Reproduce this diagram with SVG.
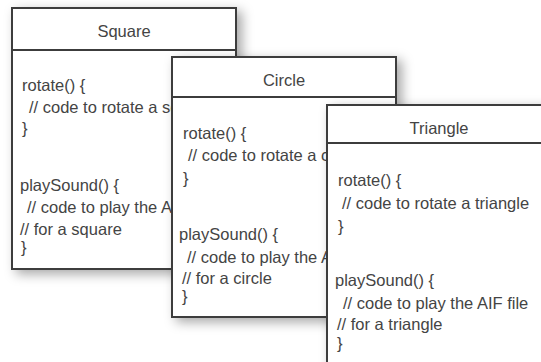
<svg xmlns="http://www.w3.org/2000/svg" width="541" height="362" viewBox="0 0 541 362">
<defs>
<filter id="sh" x="-20%" y="-20%" width="150%" height="150%">
<feDropShadow dx="5" dy="4" stdDeviation="6" flood-color="#000" flood-opacity="0.35"/>
</filter>
</defs>
<style>
.box{fill:#fff;stroke:#3c3c3c;stroke-width:2}
.hl{stroke:#3c3c3c;stroke-width:2}
.t{font-family:"Liberation Sans",Arial,sans-serif;font-size:16.5px;fill:#444}
.ttl{text-anchor:middle}
</style>
<rect width="541" height="362" fill="#fff"/>
<g id="connectors"></g>
<g id="square">
<rect class="box" x="12" y="8" width="224" height="261" filter="url(#sh)"/>
<line class="hl" x1="12" y1="50" x2="236" y2="50"/>
<text class="t ttl" x="124" y="37">Square</text>
<text class="t" x="22" y="91">rotate() {</text>
<text class="t" x="29" y="113">// code to rotate a square</text>
<text class="t" x="22" y="134">}</text>
<text class="t" x="20" y="191">playSound() {</text>
<text class="t" x="27" y="213">// code to play the AIF file</text>
<text class="t" x="20" y="235">// for a square</text>
<text class="t" x="21" y="253">}</text>
</g>
<g id="circle">
<rect class="box" x="172" y="57" width="224" height="260" filter="url(#sh)"/>
<line class="hl" x1="172" y1="97" x2="396" y2="97"/>
<text class="t ttl" x="284" y="86">Circle</text>
<text class="t" x="183" y="139">rotate() {</text>
<text class="t" x="188" y="161">// code to rotate a circle</text>
<text class="t" x="183" y="184">}</text>
<text class="t" x="179" y="240">playSound() {</text>
<text class="t" x="187" y="263">// code to play the AIF file</text>
<text class="t" x="182" y="284">// for a circle</text>
<text class="t" x="182" y="302">}</text>
</g>
<g id="triangle">
<rect class="box" x="327" y="105" width="224" height="262" filter="url(#sh)"/>
<line class="hl" x1="327" y1="143" x2="551" y2="143"/>
<text class="t ttl" x="439" y="134">Triangle</text>
<text class="t" x="338" y="186">rotate() {</text>
<text class="t" x="342" y="209">// code to rotate a triangle</text>
<text class="t" x="338" y="232">}</text>
<text class="t" x="335" y="286">playSound() {</text>
<text class="t" x="343" y="309">// code to play the AIF file</text>
<text class="t" x="337" y="330">// for a triangle</text>
<text class="t" x="337" y="349">}</text>
</g>
</svg>
